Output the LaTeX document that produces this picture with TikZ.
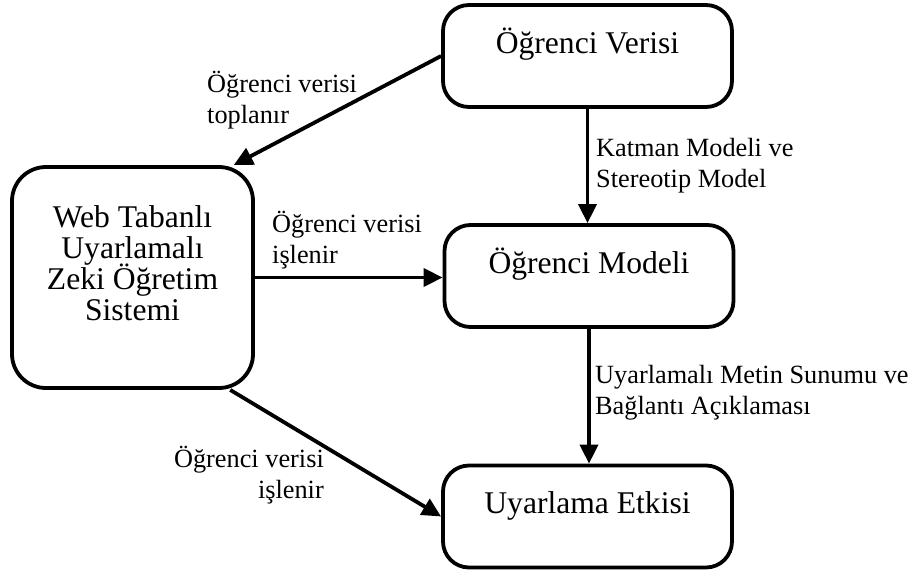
\documentclass[tikz,border=0pt]{standalone}
\usepackage{fontspec}
\setmainfont{Liberation Serif}
\usetikzlibrary{arrows.meta}
\newcommand\tightls{\lineskiplimit=-100pt\relax}
\newcommand\boxfont{\fontsize{31.6}{31}\selectfont\tightls}
\newcommand\lblfont{\fontsize{26.3}{30.8}\selectfont\tightls}
\tikzset{
  box/.style={draw, line width=3.8pt, rounded corners=26pt, inner sep=0pt,
    font=\boxfont},
  onebox/.style={box, minimum width=289pt, minimum height=102pt,
    text height=24pt, text depth=30pt},
  lbl/.style={inner sep=0pt, align=left, font=\lblfont},
  conn/.style={line width=3.8pt, -{Triangle[length=19pt,width=18pt]}}
}
\begin{document}
\begin{tikzpicture}[x=1pt,y=-1pt]
\useasboundingbox (0,0) rectangle (913,571);
\node[onebox] (V) at (587.5,56) {Öğrenci Verisi};
\node[onebox] (M) at (589,276) {Öğrenci Modeli};
\node[onebox] (E) at (587.5,516.5) {Uyarlama Etkisi};
\node[box, rounded corners=34pt, minimum width=241pt, minimum height=221pt,
  align=center, text height=115pt, text depth=30pt] (W) at (132.5,277.5)
  {Web Tabanlı\\Uyarlamalı\\Zeki Öğretim\\Sistemi};
\draw[conn] (V.west) -- (W.48);
\draw[conn] (V.south) -- (V.south |- M.north);
\draw[conn] (W.east) -- (W.east -| M.west);
\draw[conn] (M.south) -- (M.south |- E.north);
\draw[conn] (W.-49) -- (E.west);
\node[lbl, anchor=base west] (l1) at (207,123) {Öğrenci verisi\\toplanır};
\node[lbl, anchor=base west] (l2) at (596,187) {Katman Modeli ve\\Stereotip Model};
\node[lbl, anchor=base west] (l3) at (272,263) {Öğrenci verisi\\işlenir};
\node[lbl, anchor=base west] (l4) at (595,414) {Uyarlamalı Metin Sunumu ve\\Bağlantı Açıklaması};
\node[lbl, anchor=base east, align=right] (l5) at (324,498) {Öğrenci verisi\\işlenir};
\end{tikzpicture}
\end{document}
